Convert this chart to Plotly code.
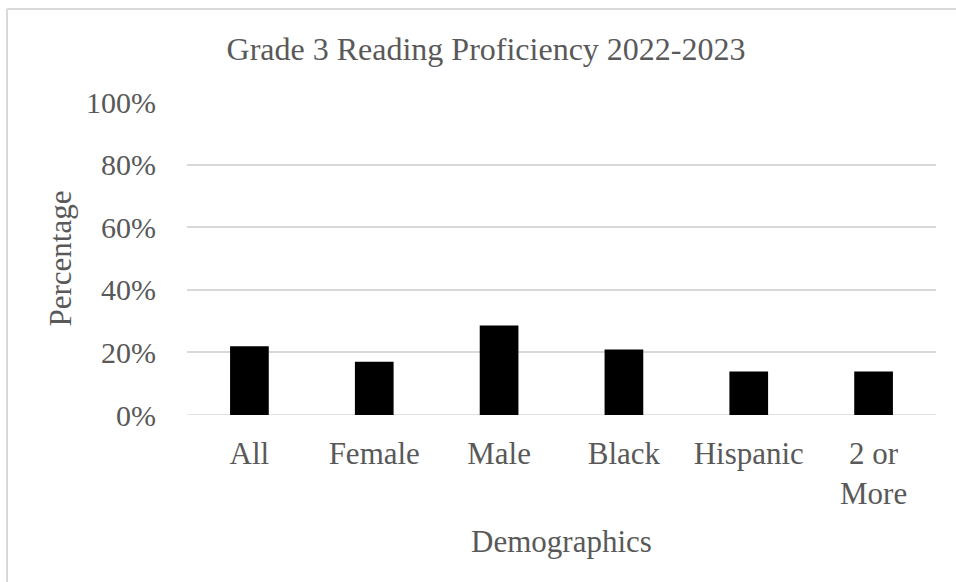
import plotly.graph_objects as go

categories = ["All", "Female", "Male", "Black", "Hispanic", "2 or<br>More"]
values = [0.22, 0.17, 0.286, 0.209, 0.139, 0.139]
y_ticks = [0, 0.2, 0.4, 0.6, 0.8, 1.0]
y_tick_labels = ["0%", "20%", "40%", "60%", "80%", "100%"]
title_text = "Grade 3 Reading Proficiency 2022-2023"
x_title = "Demographics"
y_title = "Percentage"

W, H = 956, 582
L, R, T, B = 187, 20, 102, 167
pw, ph = W - L - R, H - T - B

def px_x(p):
    return (p - L) / pw

def px_y(p):
    return (H - B - p) / ph

FONT = "Liberation Serif, Times New Roman, serif"
TXT = "#595959"

fig = go.Figure(go.Bar(x=categories, y=values, marker=dict(color="black", line=dict(width=0)),
                       width=0.31))

fig.update_layout(
    width=W, height=H,
    margin=dict(l=L, r=R, t=T, b=B, autoexpand=False),
    paper_bgcolor="white", plot_bgcolor="white",
    showlegend=False,
    font=dict(family=FONT, color=TXT, size=30),
    title=dict(text=title_text, x=px_x(486), xref="paper", xanchor="center",
               y=1 - 49 / H, yref="container", yanchor="middle",
               font=dict(family=FONT, size=32, color=TXT)),
    xaxis=dict(showgrid=False, showline=False, ticks="", tickfont=dict(size=31),
               ticklabelstandoff=17,
               title=dict(text=x_title, font=dict(size=31), standoff=20)),
    yaxis=dict(range=[0, 1.0], tickvals=y_ticks, ticktext=y_tick_labels,
               showgrid=True, gridcolor="#d9d9d9", gridwidth=1.5, zeroline=False,
               showline=False, ticks="", tickfont=dict(size=30), ticklabelstandoff=30,
               title=dict(text=y_title, font=dict(size=31), standoff=5)),
    shapes=[
        dict(type="line", xref="paper", yref="paper", x0=px_x(7), x1=px_x(990),
             y0=px_y(9), y1=px_y(9), line=dict(color="#d9d9d9", width=2)),
        dict(type="line", xref="paper", yref="paper", x0=px_x(7), x1=px_x(7),
             y0=px_y(9), y1=px_y(600), line=dict(color="#d9d9d9", width=2)),
        dict(type="line", xref="paper", yref="y", x0=0, x1=1, y0=0, y1=0,
             line=dict(color="#d9d9d9", width=1.5), layer="below"),
    ],
)

fig.write_html(
    "out.html",
    config={"displayModeBar": False},
    post_script="document.body.style.margin='0';document.body.style.overflow='hidden';",
)
